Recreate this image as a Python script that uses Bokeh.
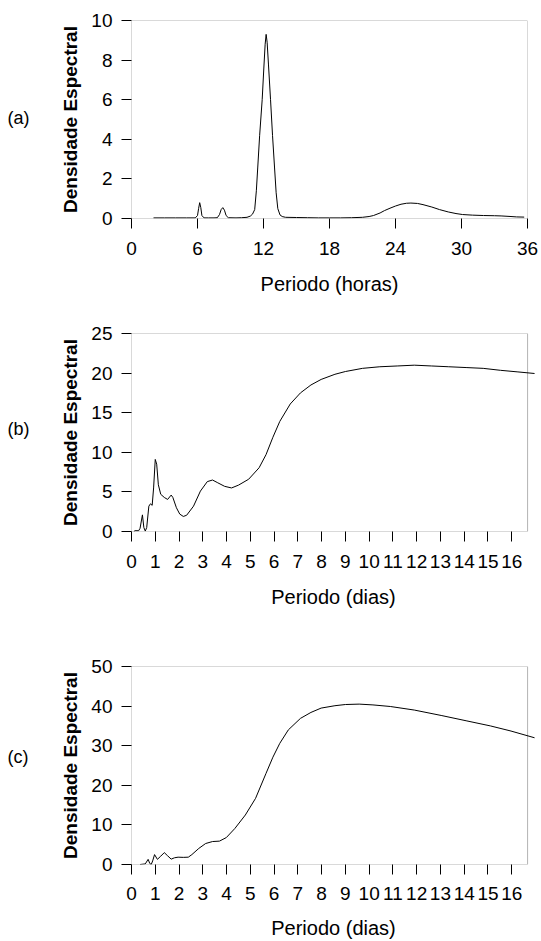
from bokeh.plotting import figure
from bokeh.layouts import column, row
from bokeh.models import Range1d, FixedTicker, BoxAnnotation
from bokeh.core.properties import value
from bokeh.embed import file_html
from bokeh.resources import INLINE

FONT = "Liberation Sans"

# ---------------- Panel (a): period in hours ----------------
a_period = [2.0, 3.0, 4.0, 5.0, 5.8, 6.0, 6.1, 6.2, 6.3, 6.4, 6.6, 7.0, 7.5, 7.8,
            8.0, 8.15, 8.3, 8.45, 8.6, 8.8, 9.5, 10.0, 10.5, 10.8, 11.0, 11.2,
            11.35, 11.48, 11.65, 11.88, 12.03, 12.15, 12.24, 12.33, 12.45, 12.64,
            12.82, 13.0, 13.15, 13.3, 13.5, 13.7, 14.0, 15.0, 16.0, 17.0, 18.0,
            19.0, 20.0, 21.0, 21.6, 22.0, 22.6, 23.0, 23.5, 24.0, 24.5, 25.0,
            25.4, 26.0, 26.5, 27.3, 28.0, 28.8, 29.5, 30.1, 31.0, 32.0, 33.0,
            33.6, 34.5, 35.0, 35.7]
a_density = [0.03, 0.03, 0.03, 0.03, 0.03, 0.15, 0.5, 0.8, 0.55, 0.15, 0.03, 0.03,
             0.03, 0.04, 0.2, 0.45, 0.55, 0.42, 0.15, 0.04, 0.03, 0.04, 0.06, 0.12,
             0.22, 0.45, 1.4, 2.6, 4.2, 6.0, 7.6, 8.8, 9.3, 8.9, 7.8, 6.0, 4.2, 2.6,
             1.3, 0.5, 0.18, 0.1, 0.06, 0.05, 0.04, 0.03, 0.03, 0.03, 0.04, 0.06,
             0.1, 0.15, 0.28, 0.4, 0.52, 0.63, 0.72, 0.77, 0.78, 0.76, 0.7, 0.58,
             0.45, 0.33, 0.25, 0.2, 0.17, 0.15, 0.14, 0.13, 0.1, 0.08, 0.07]
a_xticks = [0, 6, 12, 18, 24, 30, 36]
a_yticks = [0, 2, 4, 6, 8, 10]

# ---------------- Panel (b): period in days ----------------
b_period = [0.1, 0.15, 0.3, 0.36, 0.46, 0.52, 0.58, 0.64, 0.73, 0.8, 0.87, 0.93,
            1.0, 1.06, 1.13, 1.23, 1.38, 1.52, 1.67, 1.74, 1.89, 2.03, 2.18, 2.32,
            2.61, 2.9, 3.19, 3.41, 3.63, 3.92, 4.21, 4.5, 4.93, 5.37, 5.66, 5.95,
            6.24, 6.68, 7.11, 7.55, 7.98, 8.56, 9.0, 9.72, 10.45, 11.18, 11.9,
            12.63, 13.35, 14.08, 14.8, 15.53, 16.26, 16.96]
b_density = [0.0, 0.1, 0.1, 0.4, 2.1, 0.5, 0.05, 0.5, 3.2, 3.5, 3.3, 5.5, 9.1, 8.5,
             5.9, 4.7, 4.3, 4.05, 4.6, 4.3, 3.0, 2.2, 1.9, 2.05, 3.2, 5.1, 6.3, 6.5,
             6.15, 5.7, 5.5, 5.85, 6.6, 8.05, 9.7, 11.9, 13.9, 16.1, 17.5, 18.5,
             19.2, 19.85, 20.2, 20.6, 20.8, 20.9, 21.0, 20.9, 20.8, 20.7, 20.6,
             20.35, 20.15, 19.95]
b_yticks = [0, 5, 10, 15, 20, 25]

# ---------------- Panel (c): period in days ----------------
c_period = [0.36, 0.58, 0.7, 0.77, 0.83, 0.89, 0.97, 1.09, 1.23, 1.38, 1.52, 1.67,
            1.81, 1.96, 2.18, 2.39, 2.54, 2.83, 3.12, 3.41, 3.7, 3.99, 4.35, 4.79,
            5.22, 5.66, 5.95, 6.24, 6.6, 7.11, 7.55, 7.98, 8.56, 9.0, 9.58, 10.16,
            10.89, 11.9, 13.06, 14.08, 15.1, 15.97, 16.96]
c_density = [0.0, 0.15, 1.3, 0.25, 0.0, 0.9, 2.5, 1.3, 2.1, 3.0, 2.2, 1.35, 1.7,
             1.85, 1.8, 1.85, 2.5, 4.05, 5.3, 5.8, 5.9, 6.8, 9.1, 12.5, 16.7, 23.0,
             27.1, 30.6, 34.0, 36.9, 38.4, 39.5, 40.1, 40.4, 40.5, 40.3, 39.9, 39.0,
             37.6, 36.3, 35.0, 33.7, 32.0]
c_yticks = [0, 10, 20, 30, 40, 50]

days_xticks = list(range(0, 17))
days_frame_end = 400 / 24  # 400 hours shown

panel_tags = ["(a)", "(b)", "(c)"]

TAG_W = 40


def make_tag(tag, height, y_end, tag_y):
    # narrow companion plot; its frame is aligned with the panel frame,
    # so it shares the panel's vertical scale
    t = figure(width=TAG_W, height=height, output_backend="svg",
               toolbar_location=None, x_range=Range1d(0, TAG_W),
               y_range=Range1d(0, y_end),
               x_axis_location=None, y_axis_location=None,
               min_border=0, min_border_left=0, min_border_right=0,
               min_border_top=0, min_border_bottom=0)
    t.grid.visible = False
    t.outline_line_color = None
    t.background_fill_color = "white"
    t.border_fill_color = "white"
    t.text(x=[7], y=[tag_y], text=[tag], text_font=value(FONT),
           text_font_size="18px", text_color="black",
           text_align="left", text_baseline="middle")
    return t


def make_panel(xs, ys, x_end, frame_end, y_end, xticks, yticks, xlabel,
               height, top, right, lab_off, title_off):
    p = figure(width=541 - TAG_W, height=height, output_backend="svg",
               toolbar_location=None,
               x_range=Range1d(0, x_end), y_range=Range1d(0, y_end),
               min_border_left=131 - TAG_W, min_border_right=right,
               min_border_top=top, min_border_bottom=height - top - 198)
    p.line(xs, ys, line_color="black", line_width=1)
    p.grid.visible = False
    p.outline_line_color = None
    p.background_fill_color = "white"
    p.border_fill_color = "white"

    box = BoxAnnotation(left=0, right=frame_end, bottom=0, top=y_end,
                        fill_color=None, line_color="black", line_width=1,
                        level="overlay")
    p.add_layout(box)

    for ax in (p.xaxis, p.yaxis):
        ax.axis_line_color = None
        ax.major_tick_line_color = "black"
        ax.major_tick_in = 0
        ax.major_tick_out = 10
        ax.minor_tick_line_color = None
        ax.major_label_text_font = FONT
        ax.major_label_text_font_size = "19px"
        ax.major_label_text_color = "black"
        ax.axis_label_text_font = FONT
        ax.axis_label_text_color = "black"

    p.xaxis.ticker = FixedTicker(ticks=xticks)
    p.yaxis.ticker = FixedTicker(ticks=yticks)
    p.xaxis.major_label_standoff = lab_off
    p.yaxis.major_label_standoff = 9
    p.xaxis.axis_label = xlabel
    p.xaxis.axis_label_text_font_size = "20px"
    p.xaxis.axis_label_text_font_style = "normal"
    p.xaxis.axis_label_standoff = title_off
    p.yaxis.axis_label = "Densidade Espectral"
    p.yaxis.axis_label_text_font_size = "19px"
    p.yaxis.axis_label_text_font_style = "bold"
    p.yaxis.axis_label_standoff = 7
    return p


pa = make_panel(a_period, a_density, 36, 36, 10, a_xticks, a_yticks,
                "Periodo (horas)", 320, 20, 14, 13, 15)
pb = make_panel(b_period, b_density, 17.0, days_frame_end, 25, days_xticks,
                b_yticks, "Periodo (dias)", 330, 13, 6, 13, 15)
pc = make_panel(c_period, c_density, 17.0, days_frame_end, 50, days_xticks,
                c_yticks, "Periodo (dias)", 291, 16, 6, 12, 14)

ta = make_tag(panel_tags[0], 320, 10, 5.1)
tb = make_tag(panel_tags[1], 330, 25, 13.0)
tc = make_tag(panel_tags[2], 291, 50, 27.2)

layout = column(row(ta, pa, spacing=0), row(tb, pb, spacing=0),
                row(tc, pc, spacing=0), spacing=0)
open("out.html", "w").write(file_html(layout, INLINE))
